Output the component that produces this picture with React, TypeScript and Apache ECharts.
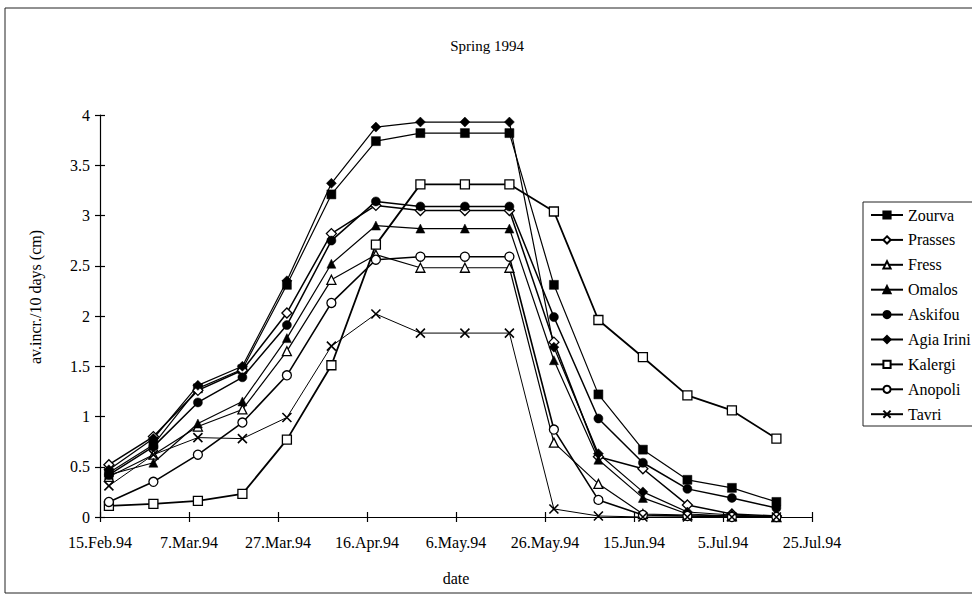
import React, { useEffect, useRef } from 'react';
import * as echarts from 'echarts';

const startDate = '1994-02-15';
const sampleDates = [
  '1994-02-17', '1994-02-27', '1994-03-09', '1994-03-19', '1994-03-29', '1994-04-08',
  '1994-04-18', '1994-04-28', '1994-05-08', '1994-05-18', '1994-05-28', '1994-06-07',
  '1994-06-17', '1994-06-27', '1994-07-07', '1994-07-17',
];
const xTickLabels = ['15.Feb.94', '7.Mar.94', '27.Mar.94', '16.Apr.94', '6.May.94', '26.May.94', '15.Jun.94', '5.Jul.94', '25.Jul.94'];
const yTickLabels = ['0', '0.5', '1', '1.5', '2', '2.5', '3', '3.5', '4'];

const zourva = [0.44, 0.72, 1.28, 1.47, 2.31, 3.21, 3.74, 3.82, 3.82, 3.82, 2.31, 1.22, 0.67, 0.37, 0.29, 0.15];
const prasses = [0.52, 0.80, 1.26, 1.46, 2.03, 2.82, 3.10, 3.05, 3.05, 3.05, 1.74, 0.60, 0.48, 0.12, 0.03, 0.01];
const fress = [0.40, 0.62, 0.90, 1.07, 1.65, 2.36, 2.61, 2.48, 2.48, 2.48, 0.74, 0.33, 0.03, 0.02, 0.01, 0];
const omalos = [0.42, 0.54, 0.93, 1.15, 1.78, 2.52, 2.90, 2.87, 2.87, 2.87, 1.56, 0.57, 0.19, 0.03, 0.01, 0];
const askifou = [0.42, 0.70, 1.14, 1.39, 1.91, 2.75, 3.14, 3.09, 3.09, 3.09, 1.99, 0.98, 0.54, 0.28, 0.19, 0.09];
const agiaIrini = [0.47, 0.78, 1.31, 1.50, 2.35, 3.32, 3.88, 3.93, 3.93, 3.93, 1.69, 0.63, 0.25, 0.05, 0.02, 0];
const kalergi = [0.11, 0.13, 0.16, 0.23, 0.77, 1.51, 2.71, 3.31, 3.31, 3.31, 3.04, 1.96, 1.59, 1.21, 1.06, 0.78];
const anopoli = [0.15, 0.35, 0.62, 0.94, 1.41, 2.13, 2.56, 2.59, 2.59, 2.59, 0.87, 0.17, 0.02, 0.01, 0, 0];
const tavri = [0.31, 0.62, 0.79, 0.78, 0.99, 1.70, 2.02, 1.83, 1.83, 1.83, 0.08, 0.01, 0, 0, 0, 0];

const FONT = '"Liberation Serif", "Times New Roman", serif';

const dayOffset = (d: string) => Math.round((Date.parse(d) - Date.parse(startDate)) / 86400000);

type Spec = { name: string; values: number[]; symbol: string; size: number; filled: boolean; lw: number };

const specs: Spec[] = [
  { name: 'Zourva', values: zourva, symbol: 'rect', size: 9, filled: true, lw: 1.2 },
  { name: 'Prasses', values: prasses, symbol: 'diamond', size: 10, filled: false, lw: 1.5 },
  { name: 'Fress', values: fress, symbol: 'triangle', size: 9, filled: false, lw: 1.2 },
  { name: 'Omalos', values: omalos, symbol: 'triangle', size: 9, filled: true, lw: 1.2 },
  { name: 'Askifou', values: askifou, symbol: 'circle', size: 9, filled: true, lw: 1.5 },
  { name: 'Agia Irini', values: agiaIrini, symbol: 'diamond', size: 10, filled: true, lw: 1.2 },
  { name: 'Kalergi', values: kalergi, symbol: 'rect', size: 9, filled: false, lw: 1.8 },
  { name: 'Anopoli', values: anopoli, symbol: 'circle', size: 9, filled: false, lw: 1.6 },
  { name: 'Tavri', values: tavri, symbol: 'path://M0,0L10,10M10,0L0,10', size: 9, filled: false, lw: 1.0 },
];

export default function App() {
  const ref = useRef<HTMLDivElement>(null);
  useEffect(() => {
    if (!ref.current) return;
    const chart = echarts.init(ref.current, null, { renderer: 'svg' });
    const series = specs.map((s) => ({
      name: s.name,
      type: 'line',
      xAxisIndex: 0,
      yAxisIndex: 0,
      data: s.values.map((v, i) => [dayOffset(sampleDates[i]), v]),
      symbol: s.symbol,
      symbolSize: s.size,
      showAllSymbol: true,
      lineStyle: { color: '#000', width: s.lw },
      itemStyle: s.symbol.startsWith('path')
        ? { color: 'rgba(0,0,0,0)', borderColor: '#000', borderWidth: 1.6 }
        : s.filled
          ? { color: '#000', borderColor: '#000', borderWidth: 0.5 }
          : { color: '#fff', borderColor: '#000', borderWidth: 1.3 },
      emphasis: { disabled: true },
      z: 3,
    }));
    const axisLabelX = {
      show: true,
      margin: 17,
      color: '#000',
      fontFamily: FONT,
      fontSize: 16,
      formatter: (v: number) => xTickLabels[Math.round(v / 20)] ?? '',
    };
    const axisLabelY = {
      show: true,
      margin: 10,
      color: '#000',
      fontFamily: FONT,
      fontSize: 16,
      formatter: (v: number) => yTickLabels[Math.round(v / 0.5)] ?? '',
    };
    chart.setOption({
      animation: false,
      backgroundColor: '#fff',
      grid: { left: 100, right: 160, top: 115, bottom: 93, containLabel: false, outerBoundsMode: 'none' },
      legend: {
        show: true,
        orient: 'vertical',
        left: 870,
        top: 207,
        padding: 0,
        itemWidth: 32,
        itemHeight: 9,
        itemGap: 8.9,
        selectedMode: false,
        textStyle: { fontFamily: FONT, fontSize: 16, color: '#000', lineHeight: 16 },
        data: specs.map((s) => s.name),
      },
      xAxis: [
        {
          type: 'value',
          min: 0,
          max: 160,
          interval: 20,
          position: 'bottom',
          axisLine: { show: true, onZero: false, lineStyle: { color: '#000', width: 1.2 } },
          axisTick: { show: true, inside: false, length: 5, lineStyle: { color: '#000', width: 1.2 } },
          axisLabel: axisLabelX,
          splitLine: { show: false },
          name: 'date',
          nameLocation: 'middle',
          nameGap: 53,
          nameTextStyle: { fontFamily: FONT, fontSize: 16, color: '#000' },
        },
        {
          type: 'value',
          min: 0,
          max: 160,
          interval: 20,
          position: 'bottom',
          axisLine: { show: false, onZero: false },
          axisTick: { show: true, inside: true, length: 5, lineStyle: { color: '#000', width: 1.2 } },
          axisLabel: { show: false },
          splitLine: { show: false },
        },
      ],
      yAxis: [
        {
          type: 'value',
          min: 0,
          max: 4,
          interval: 0.5,
          position: 'left',
          axisLine: { show: true, onZero: false, lineStyle: { color: '#000', width: 1.2 } },
          axisTick: { show: true, inside: false, length: 5, lineStyle: { color: '#000', width: 1.2 } },
          axisLabel: axisLabelY,
          splitLine: { show: false },
        },
        {
          type: 'value',
          min: 0,
          max: 4,
          interval: 0.5,
          position: 'left',
          axisLine: { show: false, onZero: false },
          axisTick: { show: true, inside: true, length: 5, lineStyle: { color: '#000', width: 1.2 } },
          axisLabel: { show: false },
          splitLine: { show: false },
        },
      ],
      graphic: [
        {
          type: 'rect',
          silent: true,
          shape: { x: 5, y: 8, width: 990, height: 585 },
          style: { fill: 'none', stroke: '#222', lineWidth: 1 },
          z: 0,
        },
        {
          type: 'rect',
          silent: true,
          shape: { x: 863, y: 202, width: 130, height: 224 },
          style: { fill: 'none', stroke: '#222', lineWidth: 1 },
          z: 0,
        },
        {
          type: 'text',
          silent: true,
          x: 487,
          y: 46,
          style: {
            text: 'Spring 1994',
            fontFamily: FONT,
            fontSize: 15,
            fill: '#000',
            align: 'center',
            verticalAlign: 'middle',
          },
        },
        {
          type: 'text',
          silent: true,
          x: 35,
          y: 297,
          rotation: Math.PI / 2,
          style: {
            text: 'av.incr./10 days (cm)',
            fontFamily: FONT,
            fontSize: 16,
            fill: '#000',
            align: 'center',
            verticalAlign: 'middle',
          },
        },
      ],
      series,
    });
    return () => chart.dispose();
  }, []);
  return (
    <div
      ref={ref}
      style={{ position: 'fixed', left: 0, top: 0, width: 972, height: 610, background: '#fff' }}
    />
  );
}
